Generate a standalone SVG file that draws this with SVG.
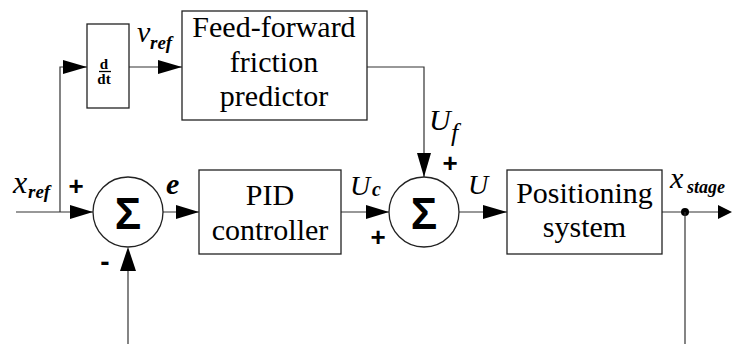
<svg xmlns="http://www.w3.org/2000/svg" width="732" height="344" viewBox="0 0 732 344">
<style>
.box{fill:#fff;stroke:#222;stroke-width:1.3}
.ln{fill:none;stroke:#333;stroke-width:1.2}
.ah{fill:#000}
.blk{font-size:30px;fill:#000;text-anchor:middle}
.it{font-style:italic;fill:#000}
.bi{font-style:italic;font-weight:bold;fill:#000}
.sg{font-weight:bold;fill:#000;text-anchor:middle}
</style>
<rect width="732" height="344" fill="#fff"/>
<g id="connectors">
  <line class="ln" x1="16" y1="212" x2="93" y2="212"/>
  <polygon class="ah" points="70,205 93,212 70,219"/>
  <polyline class="ln" points="60,212 60,67 87,67"/>
  <polygon class="ah" points="63,60 87,67 63,74"/>
  <line class="ln" x1="129" y1="67" x2="182" y2="67"/>
  <polygon class="ah" points="158,60 182,67 158,74"/>
  <polyline class="ln" points="367,67 424,67 424,177"/>
  <polygon class="ah" points="417,153 424,177 431,153"/>
  <line class="ln" x1="163" y1="212" x2="199" y2="212"/>
  <polygon class="ah" points="176,205 199,212 176,219"/>
  <line class="ln" x1="341" y1="212" x2="389" y2="212"/>
  <polygon class="ah" points="366,205 389,212 366,219"/>
  <line class="ln" x1="459" y1="212" x2="507" y2="212"/>
  <polygon class="ah" points="483,205 507,212 483,219"/>
  <line class="ln" x1="662" y1="212" x2="720" y2="212"/>
  <polygon class="ah" points="718,205 732,212 718,219"/>
  <circle cx="685" cy="212" r="4" fill="#000"/>
  <line class="ln" x1="685" y1="212" x2="685" y2="344"/>
  <line class="ln" x1="128" y1="344" x2="128" y2="265"/>
  <polygon class="ah" points="120,271 128,247 136,271"/>
</g>
<g id="ddt" font-family="'Liberation Serif', 'Times New Roman', serif">
  <rect class="box" x="87" y="24" width="42" height="84"/>
  <text x="104" y="69" font-weight="bold" font-size="15" text-anchor="middle">d</text>
  <line x1="99" y1="71.5" x2="111" y2="71.5" stroke="#000" stroke-width="1.3"/>
  <text x="104" y="84" font-weight="bold" font-size="15" text-anchor="middle">dt</text>
</g>
<g id="ff" font-family="'Liberation Serif', 'Times New Roman', serif">
  <rect class="box" x="182" y="11" width="185" height="109"/>
  <text class="blk" x="274" y="37">Feed-forward</text>
  <text class="blk" x="274" y="72">friction</text>
  <text class="blk" x="274" y="106">predictor</text>
</g>
<g id="sum1" font-family="'Liberation Sans', Arial, sans-serif">
  <circle class="box" cx="128" cy="212" r="35"/>
  <text class="sg" x="128" y="229" font-size="44">Σ</text>
</g>
<g id="pid" font-family="'Liberation Serif', 'Times New Roman', serif">
  <rect class="box" x="199" y="170" width="142" height="84"/>
  <text class="blk" x="270" y="205">PID</text>
  <text class="blk" x="270" y="240">controller</text>
</g>
<g id="sum2" font-family="'Liberation Sans', Arial, sans-serif">
  <circle class="box" cx="424" cy="212" r="35"/>
  <text class="sg" x="424" y="229" font-size="44">Σ</text>
</g>
<g id="pos" font-family="'Liberation Serif', 'Times New Roman', serif">
  <rect class="box" x="507" y="170" width="155" height="84"/>
  <text class="blk" x="584.5" y="203">Positioning</text>
  <text class="blk" x="584.5" y="237">system</text>
</g>
<g id="labels" font-family="'Liberation Serif', 'Times New Roman', serif">
  <text class="it" x="13" y="193" font-size="32">x</text>
  <text class="bi" x="28" y="198" font-size="19">ref</text>
  <text class="sg" x="76" y="195" font-size="26" font-family="'Liberation Sans', Arial, sans-serif">+</text>
  <text class="sg" x="105" y="271" font-size="28" font-family="'Liberation Sans', Arial, sans-serif">-</text>
  <text class="bi" x="166" y="194" font-size="30">e</text>
  <text class="it" x="137" y="42" font-size="30">v</text>
  <text class="bi" x="150" y="49" font-size="19">ref</text>
  <text class="it" x="429" y="130" font-size="30">U</text>
  <text class="it" x="451" y="141" font-size="26">f</text>
  <text class="sg" x="450" y="172" font-size="26" font-family="'Liberation Sans', Arial, sans-serif">+</text>
  <text class="it" x="350" y="195" font-size="28">U</text>
  <text class="bi" x="372" y="196" font-size="20">c</text>
  <text class="sg" x="378" y="246" font-size="26" font-family="'Liberation Sans', Arial, sans-serif">+</text>
  <text class="it" x="468" y="194" font-size="28">U</text>
  <text class="it" x="670" y="188" font-size="30">x</text>
  <text class="bi" x="687" y="193" font-size="18">stage</text>
</g>
</svg>
